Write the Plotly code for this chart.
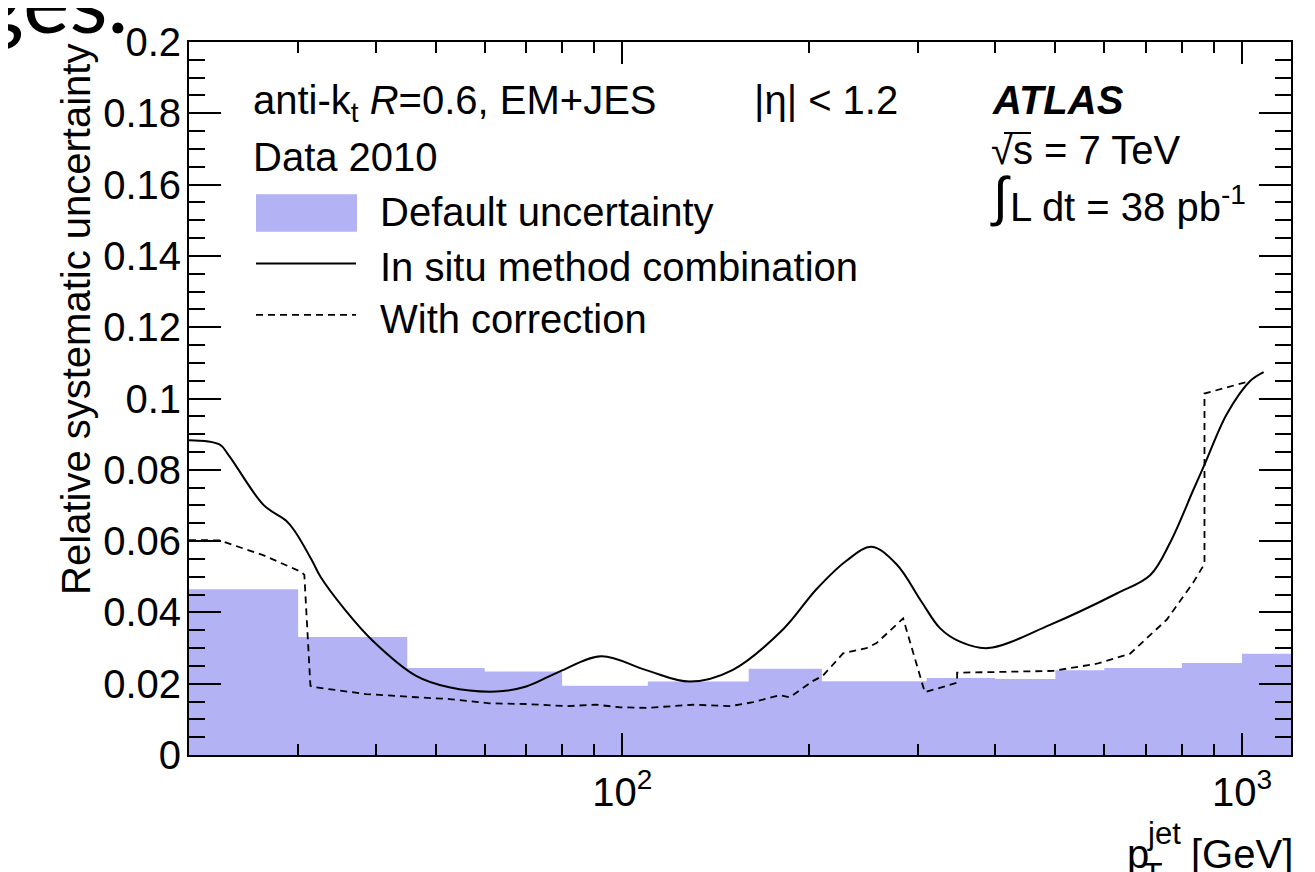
import plotly.graph_objects as go

# ---------------- data ----------------
bin_edges = [20, 30, 45, 60, 80, 110, 160, 210, 310, 400, 500, 600, 800, 1000, 1200]
default_unc = [0.0465, 0.0331, 0.0244, 0.0234, 0.0194, 0.0206, 0.0242, 0.0207,
               0.0216, 0.0213, 0.0238, 0.0244, 0.0258, 0.0284]

insitu_pt = [20, 22.4, 23.2, 26.4, 28.7, 29.6, 31.6, 32.6, 35.8, 39.5, 46.5, 52.6,
             62.6, 70.0, 79.2, 92.5, 109.3, 128.5, 150.9, 181.7, 205.8, 230.1, 252.6,
             277.1, 304.1, 325.6, 350.7, 389.5, 490, 628, 711, 766, 835, 872, 946, 1031, 1084]
insitu_unc = [0.0883, 0.0871, 0.0840, 0.0701, 0.0657, 0.0629, 0.0545, 0.0500, 0.0405, 0.0322,
              0.0222, 0.0190, 0.0178, 0.0192, 0.0234, 0.0277, 0.0238, 0.0206, 0.0239,
              0.0352, 0.0465, 0.0545, 0.0584, 0.0535, 0.0430, 0.0356, 0.0318, 0.0300, 0.0365,
              0.0453, 0.0504, 0.0596, 0.0744, 0.0818, 0.0957, 0.1049, 0.1074]

corr_pt = [20, 22.4, 26.4, 28.7, 30.4, 30.7, 31.4, 31.6, 38.6, 46.5, 52.6, 61.0, 70.0, 81.2,
           90.8, 99.0, 109.3, 130.1, 149.1, 162.6, 179.6, 186.3, 203.3, 210.7, 227.2, 247.9,
           257.3, 284.0, 307.8, 347.1, 347.1, 406.9, 496.1, 583.2, 659.9, 756.6, 835.3,
           870.1, 870.1, 1031]
corr_unc = [0.0603, 0.0602, 0.0560, 0.0532, 0.0513, 0.0505, 0.0194, 0.0191, 0.0171, 0.0162,
            0.0157, 0.0145, 0.0143, 0.0137, 0.0141, 0.0134, 0.0132, 0.0141, 0.0137, 0.0148,
            0.0168, 0.0162, 0.0208, 0.0222, 0.0285, 0.0300, 0.0314, 0.0383, 0.0176, 0.0203,
            0.0231, 0.0233, 0.0236, 0.0256, 0.0284, 0.0380, 0.0485, 0.0536, 0.1014, 0.1049]

ytick_vals = [0, 0.02, 0.04, 0.06, 0.08, 0.1, 0.12, 0.14, 0.16, 0.18, 0.2]
ytick_text = ["0", "0.02", "0.04", "0.06", "0.08", "0.1", "0.12", "0.14", "0.16", "0.18", "0.2"]
xtick_vals = [100, 1000]
xtick_text = ["10<sup>2</sup>", "10<sup>3</sup>"]
xminor_vals = [30, 40, 50, 60, 70, 80, 90, 200, 300, 400, 500, 600, 700, 800, 900]

# ---------------- style / layout ----------------
OFF = 8                      # page body margin in the browser
W, H = 1315 - OFF, 872 - OFF
L, R, T, B = 189 - OFF, 1291 - OFF, 34 - OFF, 755 - OFF
FONT = "Liberation Sans, Arial, Helvetica, sans-serif"
FILL = "#b2b2f5"


def pxx(x):
    return (x - OFF - L) / (R - L)


def pxy(y):
    return (B - (y - OFF)) / (B - T)


fig = go.Figure()
fig.add_trace(go.Scatter(
    x=bin_edges, y=default_unc + [default_unc[-1]], mode="lines",
    line=dict(shape="hv", width=0, color=FILL), fill="tozeroy", fillcolor=FILL,
    showlegend=False, name="Default uncertainty"))
fig.add_trace(go.Scatter(
    x=insitu_pt, y=insitu_unc, mode="lines",
    line=dict(color="black", width=2, shape="spline", smoothing=1.0),
    showlegend=False, name="In situ method combination"))
fig.add_trace(go.Scatter(
    x=corr_pt, y=corr_unc, mode="lines",
    line=dict(color="black", width=1.8, dash="7px,5px"),
    showlegend=False, name="With correction"))

axis_common = dict(showline=True, linecolor="black", linewidth=2, mirror="ticks",
                   ticks="inside", tickcolor="black", tickwidth=2, showgrid=False,
                   zeroline=False, tickfont=dict(family=FONT, size=40, color="black"))

fig.update_xaxes(type="log", range=[1.30103, 3.07918], tickmode="array",
                 tickvals=xtick_vals, ticktext=xtick_text, ticklen=22,
                 minor=dict(tickmode="array", tickvals=xminor_vals, ticklen=11,
                            ticks="inside", tickcolor="black", tickwidth=2),
                 ticklabelstandoff=1, **axis_common)
fig.update_yaxes(range=[0, 0.2], tickmode="array", tickvals=ytick_vals,
                 ticktext=ytick_text, ticklen=32,
                 minor=dict(dtick=0.005, ticklen=16, ticks="inside",
                            tickcolor="black", tickwidth=2),
                 ticklabelstandoff=-2, **axis_common)

ann = []


def text(s, x, base, size=40, anchor="left", **kw):
    # position text by left x and baseline (pixels of the reference page)
    top = base - 0.95 * size - 1
    ann.append(dict(text=s, x=pxx(x), y=pxy(top), xref="paper", yref="paper",
                    xanchor=anchor, yanchor="top", showarrow=False,
                    font=dict(family=kw.pop("family", FONT), size=size, color="black"), **kw))


text("anti-k<sub>t</sub> <i>R</i>=0.6, EM+JES", 251, 107)
text("|η| &lt; 1.2", 752, 107)
text("Data 2010", 251, 165)
text("Default uncertainty", 378, 221)
text("In situ method combination", 378, 276)
text("With correction", 378, 329)
text("<b><i>ATLAS</i></b>", 990, 107)
text("√s = 7 TeV", 989, 158)
text("∫", 988, 210, size=54)
text("L dt = 38 pb<sup>-1</sup>", 1008, 210)

# x-axis title pieces
text("p", 1125, 870)
text("jet", 1145, 845, size=31)
text("T", 1141, 887, size=32)
text("[GeV]", 1189, 870)

# y-axis title
ann.append(dict(text="Relative systematic uncertainty", x=pxx(76), y=pxy(315),
                xref="paper", yref="paper", xanchor="center", yanchor="middle",
                textangle=-90, showarrow=False,
                font=dict(family=FONT, size=40, color="black")))

# slide fragment at top-left
ann.append(dict(text="ges.", x=pxx(130), y=pxy(46), xref="paper", yref="paper",
                xanchor="right", yanchor="bottom", showarrow=False,
                font=dict(family="Lato, Open Sans, sans-serif", size=88, color="black")))

shapes = [
    dict(type="rect", xref="paper", yref="paper", x0=pxx(256), x1=pxx(357),
         y0=pxy(226), y1=pxy(188), fillcolor=FILL, line=dict(width=0)),
    dict(type="line", xref="paper", yref="paper", x0=pxx(256), x1=pxx(356),
         y0=pxy(258), y1=pxy(258), line=dict(color="black", width=2)),
    dict(type="line", xref="paper", yref="paper", x0=pxx(256), x1=pxx(356),
         y0=pxy(310), y1=pxy(310), line=dict(color="black", width=1.8, dash="7px,5px")),
    # radical bar over "s"
    dict(type="line", xref="paper", yref="paper", x0=pxx(1004), x1=pxx(1031),
         y0=pxy(126), y1=pxy(126), line=dict(color="black", width=2)),
]

fig.update_layout(width=W, height=H, margin=dict(l=L, r=W - R, t=T, b=H - B),
                  paper_bgcolor="white", plot_bgcolor="white",
                  annotations=ann, shapes=shapes, showlegend=False,
                  font=dict(family=FONT, size=40, color="black"))

fig.write_html("out.html")
